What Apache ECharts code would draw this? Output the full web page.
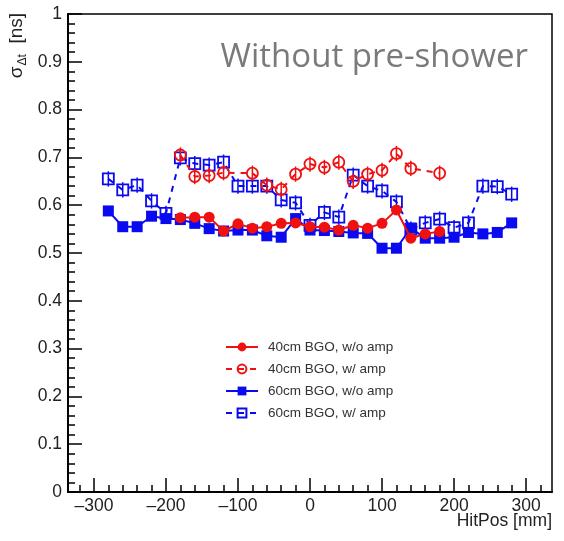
<!DOCTYPE html>
<html>
<head>
<meta charset="utf-8">
<script src="https://cdn.jsdelivr.net/npm/echarts@6/dist/echarts.min.js"></script>
<style>html,body{margin:0;padding:0;background:#fff;}#c{width:564px;height:541px;}</style>
</head>
<body>
<div id="c"></div>
<script>
// ---- data ----
const hitPos = [-280,-260,-240,-220,-200,-180,-160,-140,-120,-100,-80,-60,-40,-20,0,20,40,60,80,100,120,140,160,180,200,220,240,260,280];
const red40NoAmp = [null,null,null,null,null,0.574,0.575,0.575,0.546,0.561,0.552,0.555,0.562,0.563,0.555,0.554,0.548,0.558,0.552,0.562,0.590,0.531,0.540,0.545,null,null,null,null,null];
const red40Amp   = [null,null,null,null,null,0.705,0.660,0.662,0.668,null,0.667,0.642,0.633,0.665,0.686,0.679,0.690,0.650,0.665,0.673,0.708,0.677,null,0.667,null,null,null,null,null];
const blue60NoAmp = [0.588,0.555,0.555,0.577,0.572,0.570,0.562,0.551,0.546,0.548,0.548,0.536,0.533,0.572,0.548,0.547,0.545,0.542,0.541,0.510,0.510,0.552,0.531,0.531,0.533,0.543,0.540,0.543,0.563];
const blue60Amp   = [0.655,0.632,0.642,0.609,0.583,0.699,0.687,0.684,0.690,0.640,0.640,0.640,0.611,0.605,0.558,0.585,0.575,0.663,0.640,0.630,0.607,0.550,0.563,0.571,0.553,0.563,0.640,0.639,0.623];
const errAmp = 0.016;
const errNoAmp = 0.008;
const seriesNames = ['40cm BGO, w/o amp','40cm BGO, w/ amp','60cm BGO, w/o amp','60cm BGO, w/ amp'];
const xMajorTicks = [-300,-200,-100,0,100,200,300];
const xMinorTicks = [-320,-280,-260,-240,-220,-180,-160,-140,-120,-80,-60,-40,-20,20,40,60,80,120,140,160,180,220,240,260,280,320];
const xRange = [-336, 336];
const yRange = [0, 1];
const titleText = 'Without pre-shower';
const xTitle = 'HitPos [mm]';

const RED = '#f01010';
const BLUE = '#0a0af0';
const FONT = 'Liberation Sans';

function pairs(vals){ return hitPos.map((x,i)=> vals[i]==null ? [x,null] : [x, vals[i]]); }
function errPairs(vals, e){ const out=[]; hitPos.forEach((x,i)=>{ if(vals[i]!=null) out.push([x, vals[i], e]); }); return out; }

function errSeries(vals, e, color, z){
  return {
    type:'custom', silent:true, z:z, xAxisIndex:0, yAxisIndex:0,
    data: errPairs(vals, e),
    renderItem: function(params, api){
      const x = api.value(0), y = api.value(1), er = api.value(2);
      const p1 = api.coord([x, y-er]), p2 = api.coord([x, y+er]);
      return {type:'line', shape:{x1:p1[0],y1:p1[1],x2:p2[0],y2:p2[1]}, style:{stroke:color, lineWidth:1.5}};
    }
  };
}

const chart = echarts.init(document.getElementById('c'), null, {renderer:'canvas'});
chart.setOption({
  animation:false,
  backgroundColor:'#fff',
  grid:{left:68, right:12, top:14, bottom:49, show:true, borderColor:'#000', borderWidth:1.5, backgroundColor:'transparent'},
  xAxis:[{
    type:'value', min:xRange[0], max:xRange[1], position:'bottom',
    axisLine:{show:true, onZero:false, lineStyle:{color:'#000', width:2}},
    axisTick:{show:true, inside:true, length:14, customValues:xMajorTicks, lineStyle:{color:'#000', width:1.5}},
    axisLabel:{show:true, customValues:xMajorTicks, margin:5, fontFamily:FONT, fontSize:17.5, color:'#222',
      formatter:v=> v<0 ? '\u2013'+Math.abs(v) : String(v)},
    splitLine:{show:false}
  },{
    type:'value', min:xRange[0], max:xRange[1], position:'bottom',
    axisLine:{show:false, onZero:false},
    axisTick:{show:true, inside:true, length:7, customValues:xMinorTicks, lineStyle:{color:'#000', width:1.5}},
    axisLabel:{show:false},
    splitLine:{show:false}
  }],
  yAxis:{
    type:'value', min:yRange[0], max:yRange[1], interval:0.1,
    axisLine:{show:true, onZero:false, lineStyle:{color:'#000', width:2}},
    axisTick:{show:true, inside:true, length:14, lineStyle:{color:'#000', width:1.5}},
    minorTick:{show:true, splitNumber:5, length:7, lineStyle:{color:'#000', width:1.5}},
    axisLabel:{margin:6, fontFamily:FONT, fontSize:17.5, color:'#222', formatter:v=> (Math.abs(v)<1e-9?'0':(Math.abs(v-1)<1e-9?'1':v.toFixed(1)))},
    splitLine:{show:false}
  },
  legend:{
    orient:'vertical', left:220, top:334, itemWidth:32, itemHeight:11, itemGap:6,
    data:seriesNames,
    textStyle:{fontFamily:FONT, fontSize:13.5, color:'#333', lineHeight:16, padding:[0,0,0,5]}
  },
  graphic:[
    {type:'text', x:528, y:74, style:{text:titleText, font:'33px "Open Sans"', fill:'#7a7a7a', textAlign:'right', textVerticalAlign:'bottom'}},
    {type:'text', x:552, y:521, style:{text:xTitle, font:'17.5px "Liberation Sans"', fill:'#222', textAlign:'right', textVerticalAlign:'middle'}},
    {type:'text', x:17, y:13, rotation:Math.PI/2, style:{
      text:'{n|σ}{s|Δt}{n|  [ns]}', textAlign:'right', textVerticalAlign:'middle',
      rich:{ n:{fontFamily:FONT, fontSize:19, fill:'#222'}, s:{fontFamily:FONT, fontSize:12, fill:'#222', padding:[11,0,0,1]} }
    }}
  ],
  series:[
    errSeries(blue60Amp, errAmp, BLUE, 2),
    errSeries(red40Amp, errAmp, RED, 3),
    errSeries(blue60NoAmp, errNoAmp, BLUE, 4),
    errSeries(red40NoAmp, errNoAmp, RED, 5),
    {name:seriesNames[3], type:'line', z:2, data:pairs(blue60Amp), connectNulls:true,
      symbol:'rect', symbolSize:11, lineStyle:{color:BLUE, width:2, type:[6,6]},
      itemStyle:{color:'rgba(0,0,0,0)', borderColor:BLUE, borderWidth:1.8}},
    {name:seriesNames[1], type:'line', z:3, data:pairs(red40Amp), connectNulls:true,
      symbol:'circle', symbolSize:11, lineStyle:{color:RED, width:2, type:[6,6]},
      itemStyle:{color:'rgba(0,0,0,0)', borderColor:RED, borderWidth:1.8}},
    {name:seriesNames[2], type:'line', z:4, data:pairs(blue60NoAmp), connectNulls:false,
      symbol:'rect', symbolSize:11, lineStyle:{color:BLUE, width:2},
      itemStyle:{color:BLUE, borderColor:BLUE, borderWidth:0}},
    {name:seriesNames[0], type:'line', z:5, data:pairs(red40NoAmp), connectNulls:false,
      symbol:'circle', symbolSize:11, lineStyle:{color:RED, width:2},
      itemStyle:{color:RED, borderColor:RED, borderWidth:0}}
  ]
});
</script>
</body>
</html>
